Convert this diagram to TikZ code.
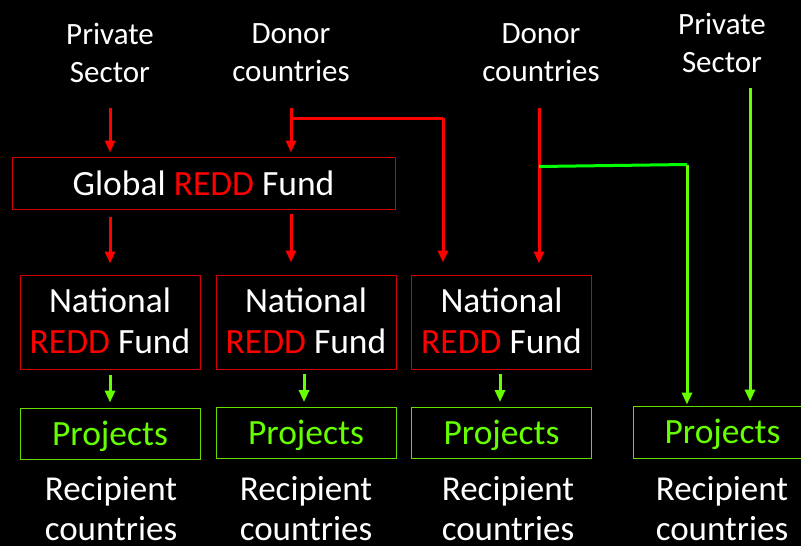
\documentclass[tikz,border=0pt]{standalone}
\usepackage{fontspec}
\setmainfont{Carlito}
\usetikzlibrary{arrows.meta}
\definecolor{flowred}{RGB}{255,0,0}
\definecolor{boxred}{RGB}{210,0,0}
\definecolor{flowlime}{RGB}{102,255,0}
\definecolor{boxlime}{RGB}{102,220,0}
\definecolor{branchgreen}{RGB}{0,255,0}
\begin{document}
\begin{tikzpicture}[x=1pt,y=-1pt,
  lbl/.style={text=white, font=\fontsize{31}{38}\selectfont, align=center, inner sep=0pt, anchor=base},
  reclbl/.style={lbl, font=\fontsize{35}{40}\selectfont},
  fundbox/.style={draw=boxred, line width=1pt, text=white, align=center, inner sep=0pt,
    font=\fontsize{35.5}{41}\selectfont},
  projbox/.style={draw=boxlime, line width=1pt, text=flowlime, inner sep=0pt,
    font=\fontsize{35.5}{41}\selectfont, minimum height=51pt, text height=31pt, text depth=8pt},
  redarr/.style={draw=flowred, line width=3pt, -{Triangle[length=12pt,width=10pt]}},
  redline/.style={draw=flowred, line width=3pt},
  limearr/.style={draw=flowlime, line width=3pt, -{Triangle[length=12pt,width=10pt]}},
  greenline/.style={draw=branchgreen, line width=3pt},
]
% canvas
\fill[black] (0,0) rectangle (801,546);
\useasboundingbox (0,0) rectangle (801,546);

% source labels (anchored at the baseline of their last line)
\node[lbl] (ps1) at (110,82) {Private\\Sector};
\node[lbl] (dc1) at (291,81) {Donor\\countries};
\node[lbl] (dc2) at (541,81) {Donor\\countries};
\node[lbl] (ps2) at (722,72) {Private\\Sector};

% funds
\node[fundbox, minimum width=383pt, minimum height=52pt, text height=32pt, text depth=8pt]
  (grf) at (203.5,183) {Global {\color{flowred}REDD} Fund};
\node[fundbox, minimum width=180pt, minimum height=94pt, text height=72pt, text depth=10pt]
  (nat1) at (110,322) {National\\{\color{flowred}REDD} Fund};
\node[fundbox, minimum width=180pt, minimum height=94pt, text height=72pt, text depth=10pt]
  (nat2) at (306,322) {National\\{\color{flowred}REDD} Fund};
\node[fundbox, minimum width=180pt, minimum height=94pt, text height=72pt, text depth=10pt]
  (nat3) at (501.5,322) {National\\{\color{flowred}REDD} Fund};

% projects
\node[projbox, minimum width=180pt] (pr1) at (110,433.5) {Projects};
\node[projbox, minimum width=180pt] (pr2) at (306,433) {Projects};
\node[projbox, minimum width=180pt] (pr3) at (501.5,433) {Projects};
\node[projbox, minimum width=168pt, minimum height=52pt] (pr4) at (717,432) {\hspace*{11pt}Projects};

% recipient labels
\node[reclbl] (rc1) at (111,540) {Recipient\\countries};
\node[reclbl] (rc2) at (306,540) {Recipient\\countries};
\node[reclbl] (rc3) at (508,540) {Recipient\\countries};
\node[reclbl] (rc4) at (722,540) {Recipient\\countries};

% start points of the flows
\coordinate (ps1o) at (110,108);
\coordinate (dc1o) at (291,108);
\coordinate (dc1j) at (291,118);
\coordinate (dc2o) at (539,108);
\coordinate (dc2j) at (539,166.5);
\coordinate (ps2o) at (750,88);

% red money flows
\draw[redarr, shorten >=4pt] (ps1o) -- (ps1o |- grf.north);
\draw[redarr, shorten >=4pt] (dc1o) -- (dc1o |- grf.north);
\draw[redline] (dc1j) -- (dc1j -| 443,0);
\draw[redarr, shorten >=12pt] (443,118) -- (443,0 |- nat3.north);
\draw[redarr, shorten <=7pt, shorten >=11pt] (grf.south -| nat1.north) -- (nat1.north);
\draw[redarr, shorten <=4pt, shorten >=12pt] (grf.south -| dc1o) -- (dc1o |- nat2.north);
\draw[redarr, shorten >=11pt] (dc2o) -- (dc2o |- nat3.north);

% green flows
\draw[greenline] (dc2j) -- (687,164.5);
\draw[limearr, shorten >=1pt] (687,164.5) -- (687,0 |- pr4.north);
\draw[limearr, shorten >=4pt] (ps2o) -- (ps2o |- pr4.north);
\draw[limearr, shorten <=5pt, shorten >=5pt] (nat1.south) -- (pr1.north);
\draw[limearr, shorten <=4pt, shorten >=5pt] (nat2.south -| 304,0) -- (pr2.north -| 304,0);
\draw[limearr, shorten <=4pt, shorten >=5pt] (nat3.south -| 500,0) -- (pr3.north -| 500,0);
\end{tikzpicture}
\end{document}
